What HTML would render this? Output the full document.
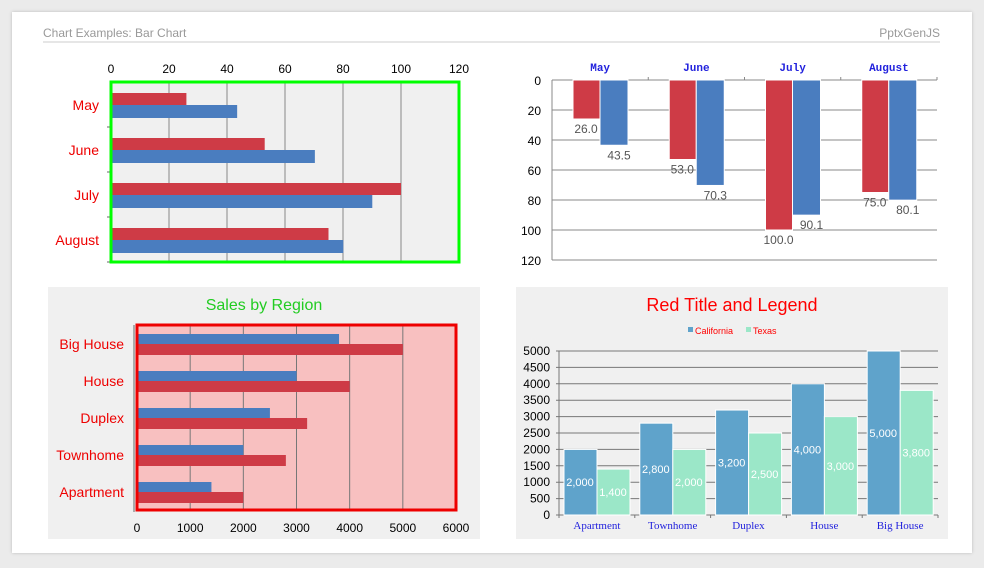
<!DOCTYPE html>
<html><head><meta charset="utf-8"><style>
body{margin:0;width:984px;height:568px;background:#ebebeb;overflow:hidden;font-family:"Liberation Sans",sans-serif}
#card{position:absolute;left:12px;top:12px;width:960px;height:541px;background:#fff;box-shadow:0 0 3px #bbb}
svg{position:absolute;left:0;top:0}
</style></head><body>
<div id="card"></div>
<svg id="s" width="984" height="568">
<text x="43" y="37" font-size="12" fill="#999">Chart Examples: Bar Chart</text>
<text x="940" y="37" font-size="12" fill="#999" text-anchor="end">PptxGenJS</text>
<line x1="43" y1="42" x2="940" y2="42" stroke="#ccc"/>
</svg>
<script>
const months=["May","June","July","August"];
const s1=[26,53,100,75];
const s2=[43.5,70.3,90.1,80.1];
const topTicks=[0,20,40,60,80,100,120];
const regions=["Apartment","Townhome","Duplex","House","Big House"];
const california=[2000,2800,3200,4000,5000];
const texas=[1400,2000,2500,3000,3800];
const regTicks=[0,1000,2000,3000,4000,5000,6000];
const stateTicks=[0,500,1000,1500,2000,2500,3000,3500,4000,4500,5000];
const NS="http://www.w3.org/2000/svg",S=document.getElementById('s');
function mk(t,a,txt){const e=document.createElementNS(NS,t);for(const k in a)e.setAttribute(k,a[k]);if(txt!=null)e.textContent=txt;S.appendChild(e);return e;}
const RED="#ce3b46",BLUE="#4a7dbf";
// Chart 1
{const x0=111,x1=459,y0=82,y1=262,X=v=>x0+v/120*(x1-x0),bh=(y1-y0)/months.length;
let e=mk('rect',{x:x0,y:y0,width:x1-x0,height:y1-y0,fill:'#f0f0f0'});

topTicks.forEach(t=>{if(t>0){e=mk('line',{x1:X(t),x2:X(t),y1:y0,y2:y1,stroke:'#888'});}
e=mk('text',{x:X(t),y:73,'font-size':12,'text-anchor':'middle'},t);});
months.forEach((m,i)=>{const b=y0+i*bh;
mk('line',{x1:x0-4,x2:x0,y1:b+bh,y2:b+bh,stroke:'#666'});
e=mk('rect',{x:x0,y:b+11,width:X(s1[i])-x0,height:12,fill:RED});
e=mk('rect',{x:x0,y:b+23,width:X(s2[i])-x0,height:13,fill:BLUE});
e=mk('text',{x:99,y:b+28,'font-size':14,fill:'#e00','text-anchor':'end'},m);});
e=mk('rect',{x:x0,y:y0,width:x1-x0,height:y1-y0,fill:'none',stroke:'#0f0','stroke-width':3});}
// Chart 2
{const x0=552,x1=937,y0=80,y1=260,Y=v=>y0+v/120*(y1-y0),bw=(x1-x0)/months.length;let e;
topTicks.forEach(t=>{e=mk('line',{x1:x0,x2:x1,y1:Y(t),y2:Y(t),stroke:'#888'});
e=mk('text',{x:541,y:Y(t)+5,'font-size':12,'text-anchor':'end'},t);});
mk('line',{x1:x0,x2:x0,y1:y0,y2:y1,stroke:'#888'});
months.forEach((m,i)=>{const b=x0+i*bw;mk('line',{x1:b+bw,x2:b+bw,y1:y0-3,y2:y0,stroke:'#888'});
e=mk('rect',{x:b+21,y:y0,width:27,height:Y(s1[i])-y0,fill:RED,stroke:'#fff'});
e=mk('rect',{x:b+48,y:y0,width:28,height:Y(s2[i])-y0,fill:BLUE,stroke:'#fff'});
e=mk('text',{x:b+34,y:Y(s1[i])+14,'font-size':12,fill:'#555','text-anchor':'middle'},s1[i].toFixed(1));
e=mk('text',{x:b+67,y:Y(s2[i])+14,'font-size':12,fill:'#555','text-anchor':'middle'},s2[i].toFixed(1));
e=mk('text',{x:b+bw/2,y:71,'font-size':11,fill:'#2222dd','font-weight':'bold','text-anchor':'middle','font-family':'Liberation Mono, monospace'},m);});}
// Chart 3
{let e=mk('rect',{x:48,y:287,width:432,height:252,fill:'#f0f0f0'});
e=mk('text',{x:264,y:310,'font-size':16,fill:'#22cc22','text-anchor':'middle'},'Sales by Region');
const x0=137,x1=456,y0=325,y1=510,X=v=>x0+v/6000*(x1-x0),bh=(y1-y0)/regions.length;
mk('rect',{x:x0,y:y0,width:x1-x0,height:y1-y0,fill:'#f8c0c0'});
regTicks.forEach(t=>{if(t>0)mk('line',{x1:X(t),x2:X(t),y1:y0,y2:y1,stroke:'#777'});
e=mk('text',{x:X(t),y:532,'font-size':12,'text-anchor':'middle'},t);});
mk('line',{x1:134,x2:134,y1:y0,y2:y1+2,stroke:'#666'});
regions.forEach((r,k)=>{const i=regions.length-1-k,b=y0+i*bh;
e=mk('rect',{x:x0,y:b+9,width:X(texas[k])-x0,height:10,fill:BLUE});
e=mk('rect',{x:x0,y:b+19,width:X(california[k])-x0,height:11,fill:RED});
e=mk('text',{x:124,y:b+24,'font-size':14,fill:'#e00','text-anchor':'end'},r);});
e=mk('rect',{x:x0,y:y0,width:x1-x0,height:y1-y0,fill:'none',stroke:'#e00','stroke-width':3});}
// Chart 4
{let e=mk('rect',{x:516,y:287,width:432,height:252,fill:'#f0f0f0'});
e=mk('text',{x:732,y:311,'font-size':18,fill:'#f00','text-anchor':'middle'},'Red Title and Legend');
mk('rect',{x:688,y:327,width:5,height:5,fill:'#5fa3cb'});
e=mk('text',{x:695,y:334,'font-size':9,fill:'#f00'},'California');
mk('rect',{x:746,y:327,width:5,height:5,fill:'#9be7c8'});
e=mk('text',{x:753,y:334,'font-size':9,fill:'#f00'},'Texas');
const x0=559,x1=938,y0=515,y1=351,Y=v=>y0-v/5000*(y0-y1),bw=(x1-x0)/regions.length;
stateTicks.forEach(t=>{mk('line',{x1:x0-3,x2:x1,y1:Y(t),y2:Y(t),stroke:'#777'});
e=mk('text',{x:550,y:Y(t)+4,'font-size':12,'text-anchor':'end'},t);});
mk('line',{x1:x0,x2:x0,y1:y1,y2:y0+3,stroke:'#777'});
regions.forEach((r,i)=>{const b=x0+i*bw;mk('line',{x1:b+bw,x2:b+bw,y1:y0,y2:y0+3,stroke:'#777'});
e=mk('rect',{x:b+5,y:Y(california[i]),width:33,height:y0-Y(california[i]),fill:'#5fa3cb',stroke:'#fff'});
e=mk('rect',{x:b+38,y:Y(texas[i]),width:33,height:y0-Y(texas[i]),fill:'#9be7c8',stroke:'#fff'});
e=mk('text',{x:b+21,y:(Y(california[i])+y0)/2+4,'font-size':11,fill:'#fff','text-anchor':'middle'},california[i].toLocaleString('en-US'));
e=mk('text',{x:b+54,y:(Y(texas[i])+y0)/2+4,'font-size':11,fill:'#fff','text-anchor':'middle'},texas[i].toLocaleString('en-US'));
e=mk('text',{x:b+bw/2,y:529,'font-size':11,fill:'#2222dd','text-anchor':'middle','font-family':'Liberation Serif, serif'},r);});}
</script>
</body></html>
